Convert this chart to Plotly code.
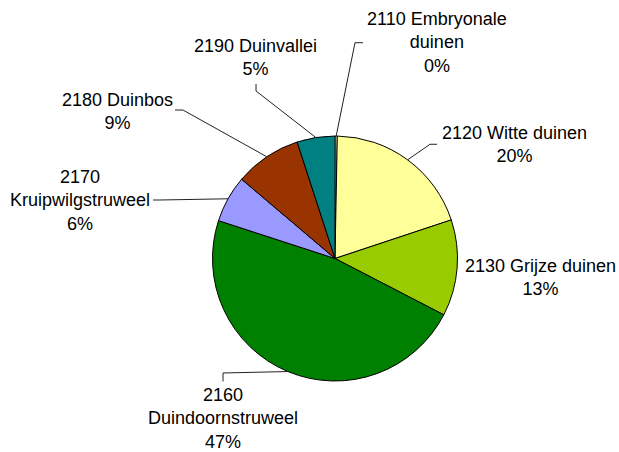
import math
import plotly.graph_objects as go

# ---- data ----
codes = ["2110", "2120", "2130", "2160", "2170", "2180", "2190"]
names = ["Embryonale duinen", "Witte duinen", "Grijze duinen", "Duindoornstruweel",
         "Kruipwilgstruweel", "Duinbos", "Duinvallei"]
values = [0.3, 19.6, 12.7, 47.4, 6.2, 8.8, 5.0]

# ---- styles / layout ----
colors = ["#FFFFCC", "#FFFF99", "#99CC00", "#008000", "#9999FF", "#993300", "#008080"]
label_lines = [["2110 Embryonale", "duinen"], ["2120 Witte duinen"], ["2130 Grijze duinen"],
               ["2160", "Duindoornstruweel"], ["2170", "Kruipwilgstruweel"],
               ["2180 Duinbos"], ["2190 Duinvallei"]]
W, H = 619, 452
CX, CY, R = 335, 258.5, 122.5
# label block centres (px) and leader waypoints (px)
label_pos = [(437, 43), (514, 144), (540, 277), (223, 418.5), (80, 200), (117, 111), (255, 57)]
leaders = [[(355, 42.7), (363, 42.7)], [(430, 144.3), (437, 144.3)], [],
           [(223, 373), (223, 381.5)], [(160, 200), (153, 200)],
           [(183, 110), (175, 110)], [(256, 91), (256, 84)]]

def px(x, y):
    return x / W, 1 - y / H

total = sum(values)
fig = go.Figure(go.Pie(
    labels=[c + " " + n for c, n in zip(codes, names)],
    values=values, sort=False, direction="clockwise", rotation=0,
    marker=dict(colors=colors, line=dict(color="black", width=1)),
    textinfo="none", hoverinfo="label+percent", showlegend=False,
    domain=dict(x=[(CX - R) / W, (CX + R) / W], y=[1 - (CY + R) / H, 1 - (CY - R) / H]),
))

shapes, annotations = [], []
cum = 0
for i, v in enumerate(values):
    mid = (cum + v / 2) / total * 2 * math.pi
    cum += v
    ex, ey = CX + R * math.sin(mid), CY - R * math.cos(mid)
    if leaders[i]:
        pts = [(ex, ey)] + leaders[i]
        path = "M " + " L ".join("%.4f,%.4f" % px(x, y) for x, y in pts)
        shapes.append(dict(type="path", path=path, xref="paper", yref="paper",
                           line=dict(color="#222222", width=1)))
    pct = round(v / total * 100)
    text = "<br>".join(label_lines[i] + ["%d%%" % pct])
    lx, ly = px(*label_pos[i])
    annotations.append(dict(text=text, x=lx, y=ly, xref="paper", yref="paper",
                            xanchor="center", yanchor="middle", showarrow=False,
                            align="center",
                            font=dict(family="Liberation Sans, Arial", size=18, color="black")))

fig.update_layout(width=W, height=H, margin=dict(l=0, r=0, t=0, b=0),
                  paper_bgcolor="white", plot_bgcolor="white",
                  shapes=shapes, annotations=annotations)
fig.write_html("out.html", config={"displayModeBar": False},
               post_script="document.body.style.margin='0';document.body.style.overflow='hidden';")
